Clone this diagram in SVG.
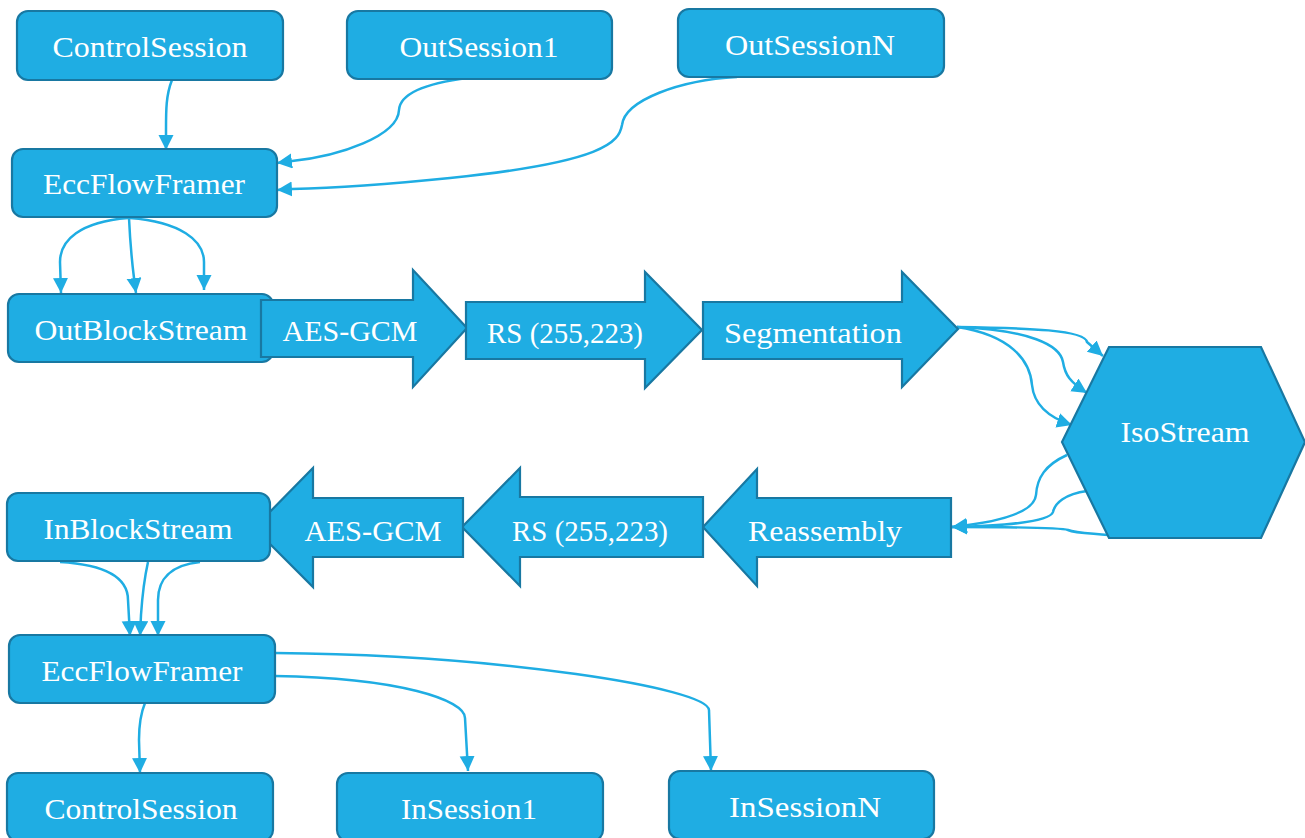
<svg xmlns="http://www.w3.org/2000/svg" width="1305" height="838" viewBox="0 0 1305 838">
<style>
.box{fill:#1FADE3;stroke:#1878A2;stroke-width:2.2}
.t{fill:#ffffff;font-family:"Liberation Serif","DejaVu Serif",serif;font-size:30px;text-anchor:middle}
.c{fill:none;stroke:#1FADE3;stroke-width:2.5}
</style>
<defs>
<marker id="ah" markerUnits="userSpaceOnUse" markerWidth="18" markerHeight="16" refX="15" refY="7.5" orient="auto">
<path d="M0,0 L15,7.5 L0,15 z" fill="#1FADE3"/>
</marker>
</defs>
<rect width="1305" height="838" fill="#ffffff"/>

<g id="connectors">
<path class="c" marker-end="url(#ah)" d="M172,80 C166,95 166,110 166,130 L166,150"/>
<path class="c" marker-end="url(#ah)" d="M468,78 C420,84 400,95 399,110 C398,136 340,156 292,161 L277,163"/>
<path class="c" marker-end="url(#ah)" d="M737,77 C680,80 625,100 622,125 C619,142 605,162 450,178 C380,185 330,188 292,189 L277,190"/>
<path class="c" marker-end="url(#ah)" d="M128,218 C80,222 60,240 60,262 L61,293"/>
<path class="c" marker-end="url(#ah)" d="M129,218 C130,240 132,262 134,278 L136,293"/>
<path class="c" marker-end="url(#ah)" d="M130,218 C180,222 204,240 204,262 L204,290"/>
<path class="c" marker-end="url(#ah)" d="M957,327 C1030,328 1085,330 1087,342 L1103,356"/>
<path class="c" marker-end="url(#ah)" d="M957,327 C1030,330 1060,345 1063,362 C1065,375 1070,382 1087,393"/>
<path class="c" marker-end="url(#ah)" d="M957,327 C1010,335 1030,360 1032,385 C1034,405 1050,418 1072,425"/>
<path class="c" marker-end="url(#ah)" d="M1067,455 C1045,465 1037,478 1036,495 C1034,515 990,523 952,527"/>
<path class="c" marker-end="url(#ah)" d="M1087,491 C1065,494 1055,503 1053,512 C1050,522 1000,526 952,527"/>
<path class="c" marker-end="url(#ah)" d="M1108,535 C1085,533 1075,533 1068,530 C1060,527 1000,527 952,527"/>
<path class="c" marker-end="url(#ah)" d="M60,562 C110,565 128,580 128,600 L130,636"/>
<path class="c" marker-end="url(#ah)" d="M148,562 C144,580 142,600 141,615 L140,636"/>
<path class="c" marker-end="url(#ah)" d="M200,562 C170,565 158,580 158,600 L158,636"/>
<path class="c" marker-end="url(#ah)" d="M145,703 C140,715 139,725 139,740 L140,773"/>
<path class="c" marker-end="url(#ah)" d="M275,676 C400,678 465,700 465,718 L468,771"/>
<path class="c" marker-end="url(#ah)" d="M275,653 C500,655 708,688 709,710 L711,771"/>
</g>

<g id="ControlSessionTop"><rect class="box" x="17" y="11" width="266" height="69" rx="11"/><text class="t" x="150" y="57" textLength="195" lengthAdjust="spacingAndGlyphs">ControlSession</text></g>
<g id="OutSession1"><rect class="box" x="347" y="11" width="265" height="68" rx="11"/><text class="t" x="479" y="57" textLength="159" lengthAdjust="spacingAndGlyphs">OutSession1</text></g>
<g id="OutSessionN"><rect class="box" x="678" y="9" width="266" height="68" rx="11"/><text class="t" x="810" y="55" textLength="170" lengthAdjust="spacingAndGlyphs">OutSessionN</text></g>
<g id="EccFlowFramerTop"><rect class="box" x="12" y="149" width="265" height="68" rx="11"/><text class="t" x="144" y="194" textLength="202" lengthAdjust="spacingAndGlyphs">EccFlowFramer</text></g>
<g id="OutBlockStream"><rect class="box" x="8" y="294" width="265" height="68" rx="11"/><text class="t" x="141" y="340" textLength="213" lengthAdjust="spacingAndGlyphs">OutBlockStream</text></g>
<g id="AESGCMOut"><polygon class="box" points="261,300 413,300 413,270 467,328 413,387 413,357 261,357"/><text class="t" x="350" y="341" textLength="135" lengthAdjust="spacingAndGlyphs">AES-GCM</text></g>
<g id="RSOut"><polygon class="box" points="466,302 645,302 645,272 702,330 645,388 645,359 466,359"/><text class="t" x="565" y="343" textLength="156" lengthAdjust="spacingAndGlyphs">RS (255,223)</text></g>
<g id="Segmentation"><polygon class="box" points="703,302 902,302 902,272 958,329 902,387 902,359 703,359"/><text class="t" x="813" y="343" textLength="178" lengthAdjust="spacingAndGlyphs">Segmentation</text></g>
<g id="IsoStream"><polygon class="box" points="1109,347 1261,347 1305,442 1261,538 1109,538 1062,442"/><text class="t" x="1185" y="442" textLength="129" lengthAdjust="spacingAndGlyphs">IsoStream</text></g>
<g id="Reassembly"><polygon class="box" points="951,498 757,498 757,469 703,527 757,586 757,557 951,557"/><text class="t" x="825" y="541" textLength="154" lengthAdjust="spacingAndGlyphs">Reassembly</text></g>
<g id="RSIn"><polygon class="box" points="703,497 520,497 520,468 462,527 520,586 520,557 703,557"/><text class="t" x="590" y="541" textLength="156" lengthAdjust="spacingAndGlyphs">RS (255,223)</text></g>
<g id="AESGCMIn"><polygon class="box" points="463,498 313,498 313,468 254,528 313,587 313,557 463,557"/><text class="t" x="373" y="541" textLength="137" lengthAdjust="spacingAndGlyphs">AES-GCM</text></g>
<g id="InBlockStream"><rect class="box" x="7" y="493" width="263" height="68" rx="11"/><text class="t" x="138" y="539" textLength="189" lengthAdjust="spacingAndGlyphs">InBlockStream</text></g>
<g id="EccFlowFramerBottom"><rect class="box" x="9" y="635" width="266" height="68" rx="11"/><text class="t" x="142" y="681" textLength="201" lengthAdjust="spacingAndGlyphs">EccFlowFramer</text></g>
<g id="ControlSessionBottom"><rect class="box" x="7" y="773" width="266" height="68" rx="11"/><text class="t" x="141" y="819" textLength="193" lengthAdjust="spacingAndGlyphs">ControlSession</text></g>
<g id="InSession1"><rect class="box" x="337" y="773" width="266" height="68" rx="11"/><text class="t" x="469" y="819" textLength="136" lengthAdjust="spacingAndGlyphs">InSession1</text></g>
<g id="InSessionN"><rect class="box" x="669" y="771" width="265" height="68" rx="11"/><text class="t" x="805" y="817" textLength="152" lengthAdjust="spacingAndGlyphs">InSessionN</text></g>
</svg>
